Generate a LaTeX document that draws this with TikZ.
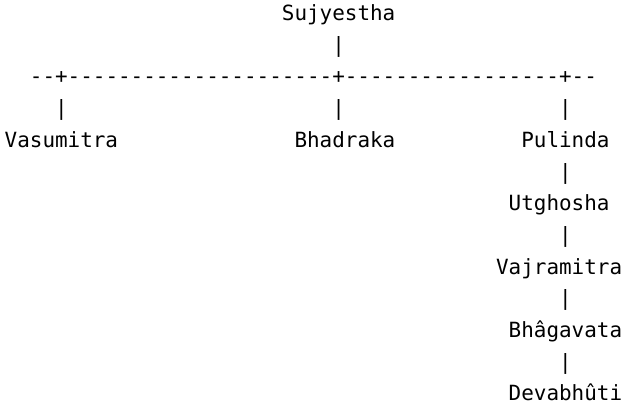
\documentclass[tikz,border=0pt]{standalone}
\usepackage{fontspec}
\setmonofont{DejaVu Sans Mono}
\begin{document}
\begin{tikzpicture}[x=1pt,y=-1pt,
  txt/.style={inner sep=0pt, anchor=base west, text=black,
    font=\ttfamily\fontsize{20.93}{25}\selectfont}]
\useasboundingbox (0,0) rectangle (623,412);
\def\cw{12.6}
\def\xo{4.5}
\def\yo{20.5}
\def\rh{31.7}
% row 0
\node[txt] (suj) at ({\xo+22*\cw},{\yo+0*\rh}) {Sujyestha};
% row 1
\node[txt] (bar1) at ({\xo+26*\cw},{\yo+1*\rh}) {|};
% row 2
\node[txt] (hline) at ({\xo+2*\cw},{\yo+2*\rh}) {--+---------------------+-----------------+--};
% row 3
\node[txt] (bar3a) at ({\xo+4*\cw},{\yo+3*\rh}) {|};
\node[txt] (bar3b) at ({\xo+26*\cw},{\yo+3*\rh}) {|};
\node[txt] (bar3c) at ({\xo+44*\cw},{\yo+3*\rh}) {|};
% row 4
\node[txt] (vas) at ({\xo+0*\cw},{\yo+4*\rh}) {Vasumitra};
\node[txt] (bha) at ({\xo+23*\cw},{\yo+4*\rh}) {Bhadraka};
\node[txt] (pul) at ({\xo+41*\cw},{\yo+4*\rh}) {Pulinda};
% rows 5-12
\node[txt] (bar5) at ({\xo+44*\cw},{\yo+5*\rh}) {|};
\node[txt] (utg) at ({\xo+40*\cw},{\yo+6*\rh}) {Utghosha};
\node[txt] (bar7) at ({\xo+44*\cw},{\yo+7*\rh}) {|};
\node[txt] (vaj) at ({\xo+39*\cw},{\yo+8*\rh}) {Vajramitra};
\node[txt] (bar9) at ({\xo+44*\cw},{\yo+9*\rh}) {|};
\node[txt] (bhg) at ({\xo+40*\cw},{\yo+10*\rh}) {Bhâgavata};
\node[txt] (bar11) at ({\xo+44*\cw},{\yo+11*\rh}) {|};
\node[txt] (dev) at ({\xo+40*\cw},{\yo+12*\rh}) {Devabhûti};
\end{tikzpicture}
\end{document}
